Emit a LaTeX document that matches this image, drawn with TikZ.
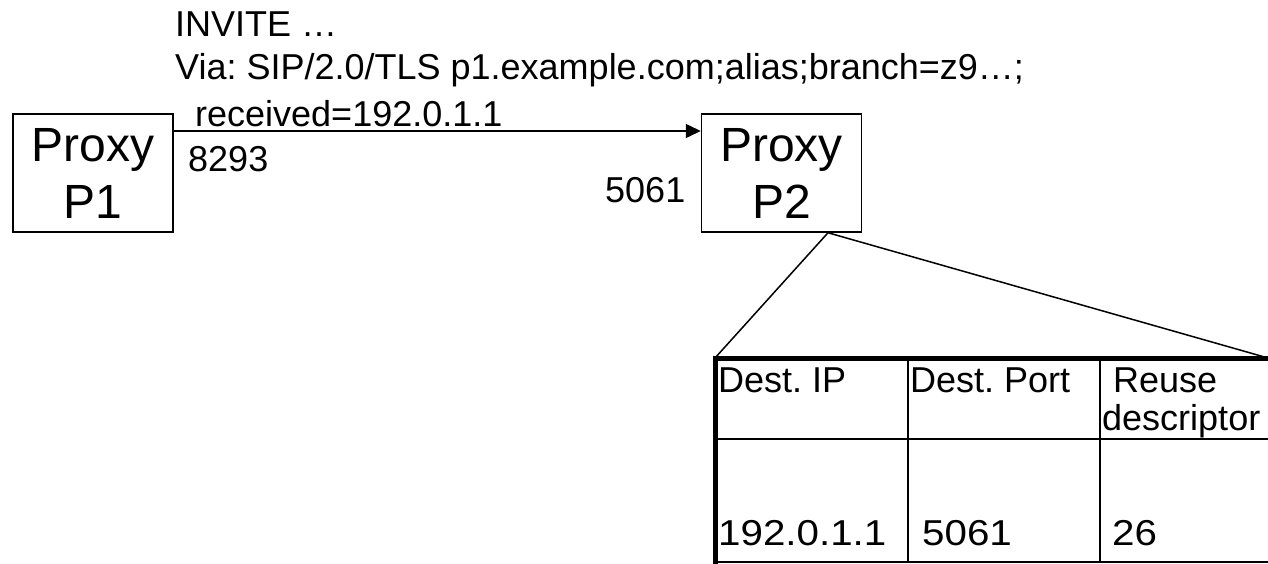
\documentclass[tikz,border=0pt]{standalone}
\usepackage{fontspec}
\setmainfont{Liberation Sans}
\usetikzlibrary{arrows.meta}
\frenchspacing
\begin{document}
\begin{tikzpicture}[x=1pt,y=-1pt,
  txt/.style={inner sep=0pt,anchor=base west,font=\fontsize{36}{43}\selectfont},
  proxy/.style={draw,line width=1.5pt,minimum width=160pt,minimum height=118pt,inner sep=0pt,align=center,font=\fontsize{48}{57}\selectfont},
  thinline/.style={line width=1.5pt},
  border/.style={line width=5pt}]
\useasboundingbox (0,0) rectangle (1268,564);
\fill[white] (0,0) rectangle (1268,564);
% proxies
\node[proxy] (P1) at (93,173) {Proxy\\P1};
\node[proxy] (P2) at (781.5,173) {Proxy\\P2};
% message
\node[txt] (inv) at (175,37) {INVITE …};
\node[txt] (via) at (175,80) {Via: SIP/2.0/TLS p1.example.com;alias;branch=z9…;};
\node[txt] (rec) at (195,127) {received=192.0.1.1};
\node[txt] (src) at (188,172) {8293};
\node[txt] (dst) at (605,203) {5061};
\draw[thinline,-{Triangle[length=15pt,width=14pt]}] ([yshift=42pt]P1.east) -- ([yshift=42pt]P2.west);
% table
\coordinate (tl) at (715,358);
\coordinate (tr) at (1268,358);
\coordinate (bl) at (715,564);
\draw[thinline] ([xshift=46.5pt]P2.south) -- (tl);
\draw[thinline] ([xshift=46.5pt]P2.south) -- (tr);
\draw[thinline] (715,439) -- (1268,439);
\draw[thinline] (715,562) -- (1268,562);
\draw[thinline] (908,358) -- (908,562);
\draw[thinline] (1100,358) -- (1100,562);
\draw[border] (bl) -- (tl) -- (tr);
\node[txt] (h1) at (718,392) {Dest. IP};
\node[txt] (h2) at (910,392) {Dest. Port};
\node[txt] (h3a) at (1113,392) {Reuse};
\node[txt] (h3b) at (1102,430) {descriptor};
\node[txt] (c1) at (718,545) {\scalebox{1.12}[1]{192.0.1.1}};
\node[txt] (c2) at (922,545) {\scalebox{1.12}[1]{5061}};
\node[txt] (c3) at (1112,545) {\scalebox{1.12}[1]{26}};
\end{tikzpicture}
\end{document}
